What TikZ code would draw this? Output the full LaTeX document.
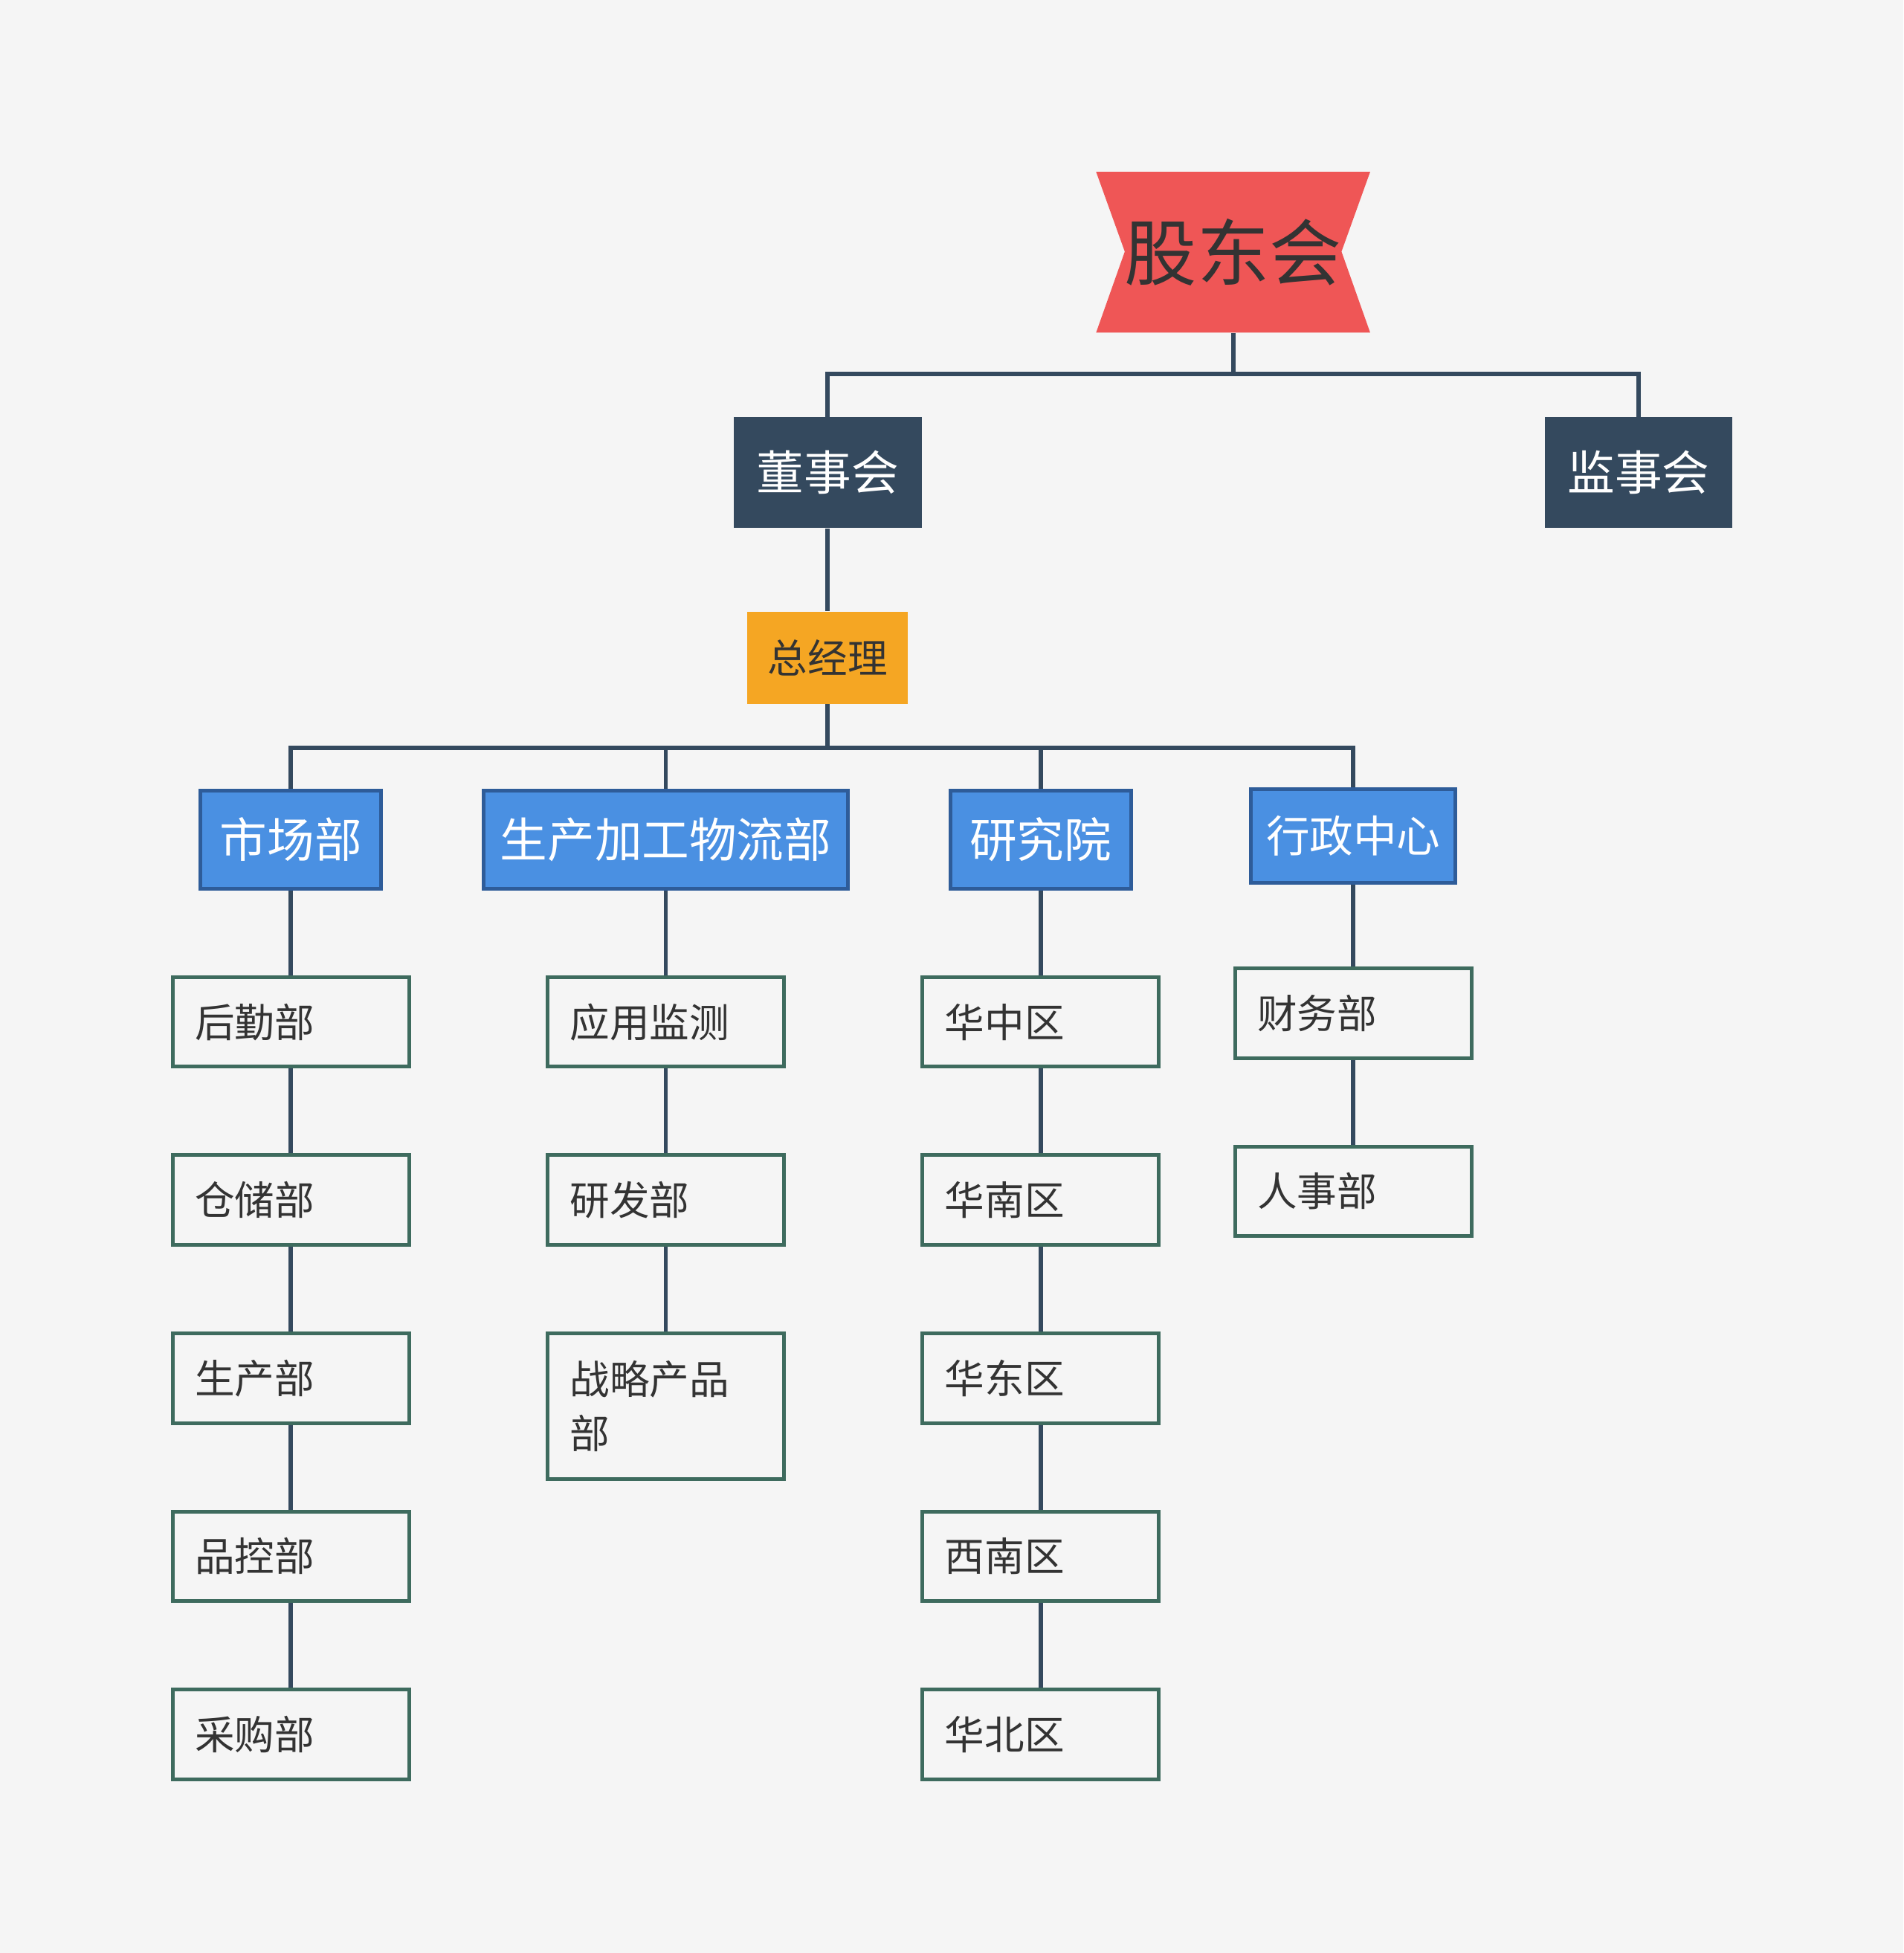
\documentclass[tikz,border=0pt]{standalone}
\usepackage{fontspec}
\setmainfont{Noto Sans CJK SC}
\begin{document}
\begin{tikzpicture}[x=0.5pt,y=-0.5pt,
  conn/.style={draw=lineC,line width=1.7pt},
  dark/.style={fill=darkC,text=white,font=\fontsize{19}{22}\selectfont,minimum width=75.5pt,minimum height=44.5pt,inner sep=0pt},
  dept/.style={fill=blueC,draw=blueD,line width=1.5pt,text=white,font=\fontsize{19}{22}\selectfont,minimum height=39.5pt,inner sep=0pt},
  leaf/.style={fill=bgC,draw=greenC,line width=1.5pt,text=textC,font=\fontsize{16}{20}\selectfont,minimum height=36pt,text width=77pt,inner xsep=9pt,align=left,anchor=north west}]
\definecolor{bgC}{HTML}{F5F5F5}
\definecolor{lineC}{HTML}{34495E}
\definecolor{darkC}{HTML}{34495E}
\definecolor{blueC}{HTML}{4A90E2}
\definecolor{blueD}{HTML}{2E5C99}
\definecolor{greenC}{HTML}{3E6B5E}
\definecolor{textC}{HTML}{333333}
\definecolor{redC}{HTML}{EF5656}
\definecolor{orC}{HTML}{F5A623}
\fill[bgC] (0,0) rectangle (1528,1568);
\useasboundingbox (0,0) rectangle (1528,1568);
% root ribbon
\fill[redC] (880,138) -- (1100,138) -- (1077,202) -- (1100,267) -- (880,267) -- (903,202) -- cycle;
\node[minimum width=110pt,minimum height=64.5pt,inner sep=0pt,text=textC,font=\fontsize{29}{32}\selectfont] (root) at (990,202.5) {股东会};
\node[dark] (dsh) at (664.5,379.5) {董事会};
\node[dark] (jsh) at (1315.5,379.5) {监事会};
\node[fill=orC,text=textC,font=\fontsize{16}{20}\selectfont,minimum width=64.5pt,minimum height=37pt,inner sep=0pt] (gm) at (664.5,528) {总经理};
\node[dept,minimum width=72.5pt] (d1) at (233.5,674) {市场部};
\node[dept,minimum width=146.5pt] (d2) at (534.5,674) {生产加工物流部};
\node[dept,minimum width=72.5pt] (d3) at (835.5,674) {研究院};
\node[dept,minimum width=82pt,minimum height=37.5pt,font=\fontsize{17.5}{21}\selectfont] (d4) at (1086.5,671) {行政中心};
% leaves
\node[leaf] (a1) at (137,783) {后勤部};
\node[leaf] (a2) at (137,926) {仓储部};
\node[leaf] (a3) at (137,1069) {生产部};
\node[leaf] (a4) at (137,1212) {品控部};
\node[leaf] (a5) at (137,1355) {采购部};
\node[leaf] (b1) at (438,783) {应用监测};
\node[leaf] (b2) at (438,926) {研发部};
\node[leaf,minimum height=58.5pt,font=\fontsize{16}{22}\selectfont] (b3) at (438,1069) {战略产品\\部};
\node[leaf] (c1) at (739,783) {华中区};
\node[leaf] (c2) at (739,926) {华南区};
\node[leaf] (c3) at (739,1069) {华东区};
\node[leaf] (c4) at (739,1212) {西南区};
\node[leaf] (c5) at (739,1355) {华北区};
\node[leaf] (e1) at (990,776) {财务部};
\node[leaf] (e2) at (990,919) {人事部};
% connectors
\draw[conn] (root.south) -- ++(0,33) -| (dsh.north);
\draw[conn] (root.south) -- ++(0,33) -| (jsh.north);
\draw[conn] (dsh.south) -- (gm.north);
\foreach \d in {d1,d2,d3,d4} \draw[conn] (gm.south) -- ++(0,35) -| (\d.north);
\draw[conn] (d1.south) -- (a1.north);
\draw[conn] (a1.south) -- (a2.north);
\draw[conn] (a2.south) -- (a3.north);
\draw[conn] (a3.south) -- (a4.north);
\draw[conn] (a4.south) -- (a5.north);
\draw[conn] (d2.south) -- (b1.north);
\draw[conn] (b1.south) -- (b2.north);
\draw[conn] (b2.south) -- (b3.north);
\draw[conn] (d3.south) -- (c1.north);
\draw[conn] (c1.south) -- (c2.north);
\draw[conn] (c2.south) -- (c3.north);
\draw[conn] (c3.south) -- (c4.north);
\draw[conn] (c4.south) -- (c5.north);
\draw[conn] (d4.south) -- (e1.north);
\draw[conn] (e1.south) -- (e2.north);
\end{tikzpicture}
\end{document}
